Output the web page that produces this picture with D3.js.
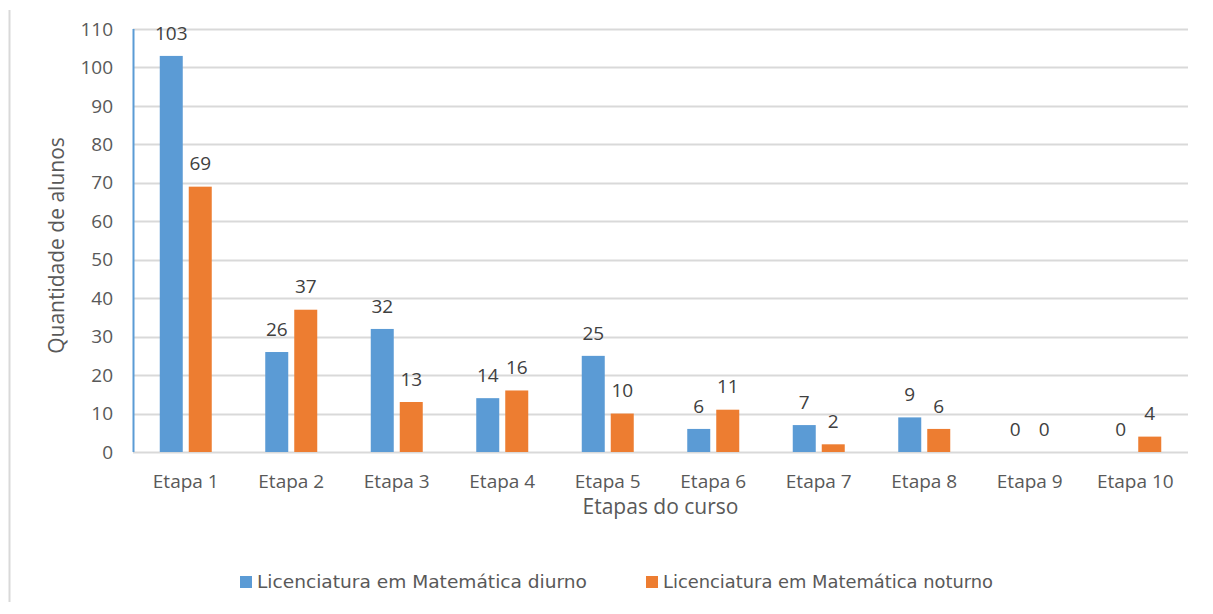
<!DOCTYPE html>
<html>
<head>
<meta charset="utf-8">
<script src="https://cdn.jsdelivr.net/npm/d3@7"></script>
<style>
  body { margin: 0; background: white; }
  text { font-family: "Open Sans", "DejaVu Sans", sans-serif; fill: #595959; }
</style>
</head>
<body>
<div id="chart"></div>
<script>
var etapas = ["Etapa 1", "Etapa 2", "Etapa 3", "Etapa 4", "Etapa 5", "Etapa 6", "Etapa 7", "Etapa 8", "Etapa 9", "Etapa 10"];
var diurno = [103, 26, 32, 14, 25, 6, 7, 9, 0, 0];
var noturno = [69, 37, 13, 16, 10, 11, 2, 6, 0, 4];
var seriesNames = ["Licenciatura em Matemática diurno", "Licenciatura em Matemática noturno"];
var colors = ["#5b9bd5", "#ed7d31"];
var yTicks = [0, 10, 20, 30, 40, 50, 60, 70, 80, 90, 100, 110];

var width = 1213, height = 614;
var margin = {top: 29, right: 25, bottom: 162, left: 133};

var svg = d3.select("#chart").append("svg")
    .attr("width", width)
    .attr("height", height);

// chart border (left edge only visible)
svg.append("line")
    .attr("x1", 9.5).attr("x2", 9.5)
    .attr("y1", 10).attr("y2", 602)
    .attr("stroke", "#d9d9d9").attr("stroke-width", 2);

var x = d3.scaleBand()
    .domain(etapas)
    .range([margin.left, width - margin.right]);

var y = d3.scaleLinear()
    .domain([0, 110])
    .range([height - margin.bottom, margin.top]);

var barW = 23, gap = 6;

// gridlines
svg.append("g")
  .selectAll("line")
  .data(yTicks)
  .enter().append("line")
    .attr("x1", margin.left).attr("x2", width - margin.right)
    .attr("y1", d => Math.round(y(d)) + 0.5).attr("y2", d => Math.round(y(d)) + 0.5)
    .attr("stroke", "#d9d9d9").attr("stroke-width", 2);

// y axis labels
svg.append("g")
  .selectAll("text")
  .data(yTicks)
  .enter().append("text")
    .attr("x", 113)
    .attr("y", d => y(d))
    .attr("dy", "0.35em")
    .attr("text-anchor", "end")
    .style("font-size", "19px")
    .text(d => d);

// left axis line
svg.append("line")
    .attr("x1", margin.left + 0.5).attr("x2", margin.left + 0.5)
    .attr("y1", y(110)).attr("y2", y(0))
    .attr("stroke", "#5b9bd5").attr("stroke-width", 2);

var series = [diurno, noturno];

series.forEach(function(values, s) {
  var g = svg.append("g");
  var xpos = function(d, i) {
    var c = x(etapas[i]) + x.bandwidth() / 2;
    return s === 0 ? c - gap / 2 - barW : c + gap / 2;
  };
  g.selectAll("rect")
    .data(values)
    .enter().append("rect")
      .attr("x", xpos)
      .attr("y", d => y(d))
      .attr("width", barW)
      .attr("height", d => y(0) - y(d))
      .attr("fill", colors[s]);
  g.selectAll("text")
    .data(values)
    .enter().append("text")
      .attr("x", (d, i) => xpos(d, i) + barW / 2)
      .attr("y", d => y(d) - 23)
      .attr("dy", "0.35em")
      .attr("text-anchor", "middle")
      .style("font-size", "19px")
      .style("fill", "#404040")
      .text(d => d);
});

// x labels
svg.append("g")
  .selectAll("text")
  .data(etapas)
  .enter().append("text")
    .attr("x", d => x(d) + x.bandwidth() / 2)
    .attr("y", 481)
    .attr("dy", "0.35em")
    .attr("text-anchor", "middle")
    .style("font-size", "19px")
    .text(d => d);

// axis titles
svg.append("text")
    .attr("x", (margin.left + width - margin.right) / 2)
    .attr("y", 507)
    .attr("dy", "0.35em")
    .attr("text-anchor", "middle")
    .style("font-size", "21px")
    .text("Etapas do curso");

svg.append("text")
    .attr("transform", "translate(57," + ((margin.top + height - margin.bottom) / 2 + 5) + ") rotate(-90)")
    .attr("dy", "0.35em")
    .attr("text-anchor", "middle")
    .style("font-size", "21px")
    .text("Quantidade de alunos");

// legend
var legendX = [240, 646];
var legend = svg.append("g")
  .selectAll("g")
  .data(seriesNames)
  .enter().append("g")
    .attr("transform", (d, i) => "translate(" + legendX[i] + ",582)");
legend.append("rect")
    .attr("x", 0).attr("y", -6)
    .attr("width", 12).attr("height", 12)
    .attr("fill", (d, i) => colors[i]);
legend.append("text")
    .attr("x", 17)
    .attr("dy", "0.35em")
    .style("font-family", "'DejaVu Sans Condensed', 'Liberation Sans Narrow', sans-serif")
    .style("font-size", "18px")
    .attr("textLength", 330)
    .attr("lengthAdjust", "spacingAndGlyphs")
    .text(d => d);
</script>
</body>
</html>
